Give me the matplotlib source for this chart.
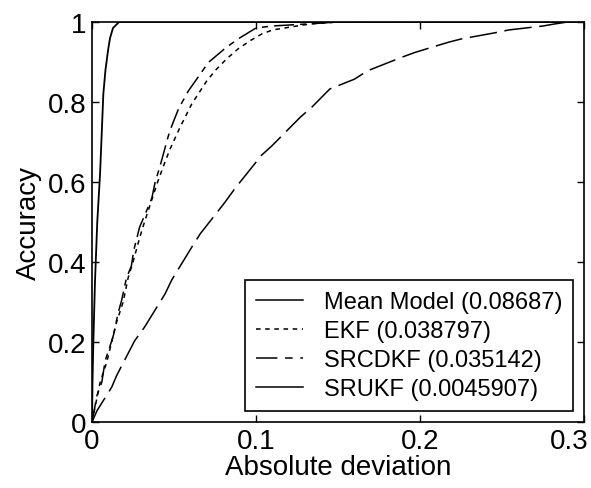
import matplotlib
matplotlib.use("Agg")
import matplotlib.pyplot as plt
import matplotlib.transforms as mtransforms
from matplotlib.lines import Line2D

plt.rcParams['font.family'] = ['Liberation Sans', 'DejaVu Sans']

# (absolute deviation, accuracy)
mean_x = [0, 0.003, 0.012, 0.015, 0.026, 0.032, 0.0445, 0.0486, 0.0608, 0.0659,
          0.081, 0.0872, 0.1035, 0.1096, 0.127, 0.134, 0.145, 0.160, 0.168, 0.189,
          0.197, 0.217, 0.225, 0.247, 0.254, 0.275, 0.282, 0.29, 0.3]
mean_y = [0, 0.028, 0.087, 0.116, 0.203, 0.237, 0.32, 0.355, 0.437, 0.47,
          0.549, 0.584, 0.6675, 0.69, 0.762, 0.787, 0.8325, 0.857, 0.878, 0.912,
          0.924, 0.949, 0.9575, 0.974, 0.98, 0.99, 0.995, 1.0, 1.0]

ekf_x = [0, 0.002, 0.005, 0.009, 0.012, 0.015, 0.019, 0.022, 0.025, 0.029, 0.032,
         0.036, 0.04, 0.0445, 0.0476, 0.0537, 0.0608, 0.070, 0.076, 0.082, 0.089,
         0.0963, 0.1035, 0.11, 0.125, 0.133, 0.15, 0.3]
ekf_y = [0, 0.04, 0.1, 0.15, 0.2, 0.25, 0.3, 0.36, 0.4, 0.46, 0.5,
         0.55, 0.6, 0.65, 0.6825, 0.737, 0.795, 0.853, 0.8825, 0.9075, 0.9325,
         0.953, 0.97, 0.98, 0.99, 0.995, 1.0, 1.0]

srcdkf_x = [0, 0.003, 0.006, 0.008, 0.011, 0.013, 0.016, 0.018, 0.021, 0.024, 0.0255,
            0.029, 0.034, 0.0365, 0.0385, 0.0415, 0.0435, 0.0466, 0.0486, 0.0527,
            0.0588, 0.0638, 0.071, 0.082, 0.090, 0.1, 0.11, 0.131, 0.15, 0.3]
srcdkf_y = [0, 0.066, 0.1, 0.153, 0.19, 0.216, 0.274, 0.303, 0.36, 0.39, 0.43,
            0.487, 0.535, 0.56, 0.6, 0.64, 0.67, 0.716, 0.74, 0.7825,
            0.828, 0.857, 0.899, 0.937, 0.96, 0.985, 0.99, 0.995, 1.0, 1.0]

srukf_x = [0, 0.0003, 0.0008, 0.0018, 0.0032, 0.0049, 0.0061, 0.0069, 0.0082,
           0.0098, 0.011, 0.0128, 0.0165, 0.3]
srukf_y = [0, 0.1, 0.2, 0.35, 0.5, 0.62, 0.74, 0.82, 0.88,
           0.93, 0.96, 0.985, 1.0, 1.0]

labels = ['Mean Model (0.08687)', 'EKF (0.038797)',
          'SRCDKF (0.035142)', 'SRUKF (0.0045907)']

fig = plt.figure(figsize=(5.91, 4.89), dpi=100)
ax = fig.add_axes([0.1557, 0.135, 0.8325, 0.818])

mean_ls = (0, (18, 5))
ekf_ls = (0, (3, 3))
srcdkf_ls = (0, (13, 4, 4, 4))

ax.plot(mean_x, mean_y, color='black', lw=1.1, linestyle=mean_ls)
ax.plot(ekf_x, ekf_y, color='black', lw=1.1, linestyle=ekf_ls)
ax.plot(srcdkf_x, srcdkf_y, color='black', lw=1.1, linestyle=srcdkf_ls)
ax.plot(srukf_x, srukf_y, color='black', lw=1.3, linestyle='-')

ax.set_xlim(0, 0.3)
ax.set_ylim(0, 1)
ax.set_xticks([0, 0.1, 0.2, 0.3])
ax.set_xticklabels(['0', '0.1', '0.2', '0.3'])
ax.set_yticks([0, 0.2, 0.4, 0.6, 0.8, 1])
ax.set_yticklabels(['0', '0.2', '0.4', '0.6', '0.8', '1'])
ax.tick_params(direction='in', length=5, width=1, top=True, right=True,
               labelsize=20, pad=4, colors='black')
for s in ax.spines.values():
    s.set_linewidth(1.2)

# last x label sits left of its tick, as in the original
last = ax.get_xticklabels()[-1]
last.set_horizontalalignment('right')
last.set_transform(last.get_transform() +
                   mtransforms.ScaledTranslation(4 / 100, 0, fig.dpi_scale_trans))

ax.set_xlabel('Absolute deviation', fontsize=20, labelpad=0)
ax.set_ylabel('Accuracy', fontsize=20, labelpad=4)

handles = [Line2D([], [], color='black', lw=1.1, linestyle='-'),
           Line2D([], [], color='black', lw=1.1, linestyle=ekf_ls),
           Line2D([], [], color='black', lw=1.1, linestyle=(0, (14, 5, 5, 5))),
           Line2D([], [], color='black', lw=1.1, linestyle='-')]
leg = ax.legend(handles, labels, loc='lower right', bbox_to_anchor=(0.978, 0.0275),
                borderaxespad=0, fancybox=False, edgecolor='black', fontsize=17,
                handlelength=2.0, handletextpad=0.9, labelspacing=0.3,
                borderpad=0.45, framealpha=1)
leg.get_frame().set_linewidth(1.2)

fig.savefig('out.png', dpi=100)
